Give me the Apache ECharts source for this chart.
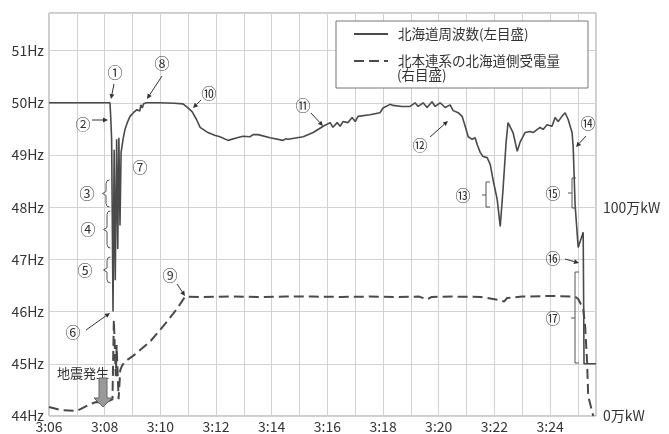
<!DOCTYPE html>
<html>
<head>
<meta charset="utf-8">
<script src="https://cdn.jsdelivr.net/npm/echarts@6/dist/echarts.min.js"></script>
<style>
html,body{margin:0;padding:0;background:#fff;}
#chart{width:669px;height:434px;}
</style>
</head>
<body>
<div id="chart"></div>
<script>
// ---- data (x = minutes after 3:00) ----
const freqMin = [6.00,8.19,8.22,8.25,8.30,8.34,8.38,8.43,8.47,8.51,8.55,8.59,8.66,8.73,8.82,8.91,9.05,9.16,9.22,9.26,9.30,9.35,9.40,9.50,10.00,10.50,10.81,10.95,11.14,11.30,11.43,11.71,11.95,12.14,12.43,12.76,12.97,13.22,13.33,13.51,13.94,14.41,14.50,14.59,15.13,15.49,15.85,16.10,16.20,16.35,16.46,16.56,16.74,16.89,17.00,17.10,17.53,17.89,18.00,18.25,18.36,18.68,18.97,19.15,19.26,19.44,19.58,19.76,19.87,20.05,20.23,20.41,20.52,20.70,20.84,20.95,21.06,21.20,21.31,21.38,21.49,21.59,21.74,21.85,21.95,22.10,22.21,22.31,22.42,22.49,22.56,22.67,22.82,22.92,23.10,23.28,23.39,23.46,23.64,23.75,23.89,24.07,24.18,24.29,24.43,24.54,24.65,24.79,24.83,24.90,25.01,25.19,25.22,25.65];
const freqHz  = [50.00,50.00,49.70,49.30,46.00,49.10,46.60,49.30,47.20,49.33,47.65,49.05,49.30,49.49,49.63,49.74,49.82,49.87,49.90,49.84,49.96,49.90,49.98,50.00,50.00,49.99,49.98,49.92,49.83,49.68,49.53,49.43,49.38,49.35,49.28,49.33,49.36,49.35,49.39,49.39,49.33,49.28,49.31,49.30,49.35,49.43,49.55,49.62,49.53,49.62,49.55,49.64,49.62,49.72,49.64,49.74,49.77,49.81,49.90,49.97,49.95,49.93,49.93,50.00,49.93,50.00,49.91,50.02,49.93,50.00,49.91,49.96,49.85,49.81,49.74,49.55,49.35,49.30,49.33,49.20,49.05,48.97,48.95,48.82,48.53,48.15,47.63,48.34,49.24,49.62,49.64,49.43,49.07,49.24,49.43,49.45,49.43,49.43,49.53,49.49,49.58,49.55,49.72,49.64,49.74,49.81,49.68,49.43,49.16,48.04,47.23,47.52,45.00,45.00];
const powerMin = [6.00,6.40,7.00,7.50,7.70,7.90,8.15,8.28,8.33,8.40,8.43,8.50,8.56,8.62,8.72,9.02,9.63,10.24,10.60,10.89,11.50,12.50,13.50,14.50,15.50,16.50,17.50,18.50,19.30,19.58,19.75,20.50,21.50,22.20,22.35,22.45,23.00,24.00,24.90,25.01,25.19,25.26,25.33,25.37,25.55];
const powerMW  = [4.3,2.9,2.4,5.8,6.7,6.3,7.2,8.0,46.0,19.0,34.0,8.0,22.0,24.0,26.0,28.8,35.6,45.2,51.4,57.2,57.0,57.2,57.0,57.2,57.2,57.0,57.2,57.0,57.2,55.8,57.0,57.2,57.0,55.5,54.8,56.5,57.2,57.5,57.2,56.0,51.4,43.0,26.0,9.6,0.0];
const seriesNames = ['北海道周波数(左目盛)', '北本連系の北海道側受電量'];
const leftTickLabels = {44:'44Hz',45:'45Hz',46:'46Hz',47:'47Hz',48:'48Hz',49:'49Hz',50:'50Hz',51:'51Hz'};
const rightTickLabels = {0:'0万kW',100:'100万kW'};
const xTickLabels = {6:'3:06',8:'3:08',10:'3:10',12:'3:12',14:'3:14',16:'3:16',18:'3:18',20:'3:20',22:'3:22',24:'3:24'};

const FONT = '"Noto Sans CJK JP", "Noto Sans", sans-serif';
const INK = '#4a4a4a';

const chart = echarts.init(document.getElementById('chart'), null, {renderer:'canvas'});

// annotation helpers (pixel layout of callouts)
function circled(t, x, y){
  return {type:'text', z:100, style:{text:t, x:x, y:y, fill:'#333', font:'15px ' + FONT, textAlign:'center', textVerticalAlign:'middle'}};
}
function arrow(x1,y1,x2,y2){
  const a = Math.atan2(y2-y1, x2-x1), L = 5, W = 2.4;
  const bx = x2 - L*Math.cos(a), by = y2 - L*Math.sin(a);
  const px = -Math.sin(a)*W, py = Math.cos(a)*W;
  return [
    {type:'line', z:100, shape:{x1:x1,y1:y1,x2:bx,y2:by}, style:{stroke:'#333', lineWidth:1}},
    {type:'polygon', z:100, shape:{points:[[x2,y2],[bx+px,by+py],[bx-px,by-py]]}, style:{fill:'#333'}}
  ];
}
function brace(x, y0, y1){
  const w = 3.5, ym = (y0+y1)/2;
  return {type:'polyline', z:100, shape:{points:[[x+w,y0],[x+1,y0+0.8],[x,y0+w],[x,ym-2],[x-w,ym],[x,ym+2],[x,y1-w],[x+1,y1-0.8],[x+w,y1]]},
    style:{stroke:'#555', lineWidth:1, fill:null}};
}
function bracket(x, y0, y1, ym){
  return [
    {type:'polyline', z:100, shape:{points:[[x+4,y0],[x,y0],[x,y1],[x+4,y1]]}, style:{stroke:'#555', lineWidth:1, fill:null}},
    {type:'line', z:100, shape:{x1:x-4,y1:ym,x2:x,y2:ym}, style:{stroke:'#555', lineWidth:1}}
  ];
}

const graphics = [].concat(
  circled('①',115,72), arrow(114,84,111,99),
  circled('②',83,124), arrow(92,120,108,120),
  circled('③',87,193), brace(106,180,207),
  circled('④',88,229), brace(107,211,248),
  circled('⑤',85,270), brace(107,257,283),
  circled('⑥',73,332), arrow(86,330,110,313),
  circled('⑦',140,167),
  circled('⑧',162,63), arrow(162,76,147,99),
  circled('⑨',170,275), arrow(177,284,185,296),
  circled('⑩',209,93), arrow(201,100,193,108),
  circled('⑪',303,105), arrow(311,113,323,126),
  circled('⑫',420,145), arrow(430,137,448,121),
  circled('⑬',463,195), bracket(486,182,207,195),
  circled('⑭',588,123), arrow(586,136,576,147),
  circled('⑮',553,193), bracket(572,178,208,193),
  circled('⑯',553,258), arrow(565,259,579,263),
  circled('⑰',553,318), bracket(575,272,363,318),
  [
    {type:'text', z:100, style:{text:'地震発生', x:83, y:373, fill:'#333', font:'13px ' + FONT, textAlign:'center', textVerticalAlign:'middle'}},
    {type:'polygon', z:100, shape:{points:[[99,378],[107,378],[107,398],[112,398],[103,407],[94,398],[99,398]]}, style:{fill:'#999', stroke:'#666', lineWidth:1}},
    {type:'text', z:100, style:{text:'(右目盛)', x:397, y:75, fill:'#333', font:'13.5px ' + FONT, textAlign:'left', textVerticalAlign:'middle'}}
  ]
);

const option = {
  animation:false,
  backgroundColor:'#fff',
  textStyle:{fontFamily:FONT},
  grid:{left:49, top:13, right:73, bottom:17, show:true, borderColor:'#9a9a9a', borderWidth:1, backgroundColor:'transparent'},
  legend:{
    orient:'vertical', left:336, top:21,
    padding:[6,28,20,17], itemGap:13, itemWidth:34, itemHeight:14,
    backgroundColor:'#fff', borderColor:'#777', borderWidth:1,
    itemStyle:{opacity:0, borderWidth:0},
    textStyle:{fontSize:13.5, color:'#333', fontFamily:FONT, lineHeight:14, padding:[0,0,0,5]},
    data: seriesNames
  },
  xAxis:{
    type:'value', min:6, max:25.65, interval:1,
    axisLine:{show:false}, axisTick:{show:false},
    splitLine:{show:true, lineStyle:{color:'#d2d2d2', width:1}},
    axisLabel:{margin:4, fontSize:14, color:'#333', fontFamily:FONT,
      formatter: v => xTickLabels[Math.round(v)] !== undefined && Math.abs(v-Math.round(v))<1e-6 ? xTickLabels[Math.round(v)] : ''}
  },
  yAxis:[
    {type:'value', min:44, max:51.72, interval:1,
      axisLine:{show:false}, axisTick:{show:false},
      splitLine:{show:true, lineStyle:{color:'#d2d2d2', width:1}},
      axisLabel:{margin:5, fontSize:14, color:'#333', fontFamily:FONT,
        formatter: v => Math.abs(v-Math.round(v))<1e-6 && leftTickLabels[Math.round(v)] ? leftTickLabels[Math.round(v)] : ''}
    },
    {type:'value', min:0, max:193, interval:100, position:'right',
      axisLine:{show:false}, axisTick:{show:false}, splitLine:{show:false},
      axisLabel:{margin:7, fontSize:14, color:'#333', fontFamily:FONT,
        formatter: v => rightTickLabels[v] !== undefined ? rightTickLabels[v] : ''}
    }
  ],
  series:[
    {name:seriesNames[0], type:'line', yAxisIndex:0, symbol:'none', z:5,
      lineStyle:{color:INK, width:1.6}, itemStyle:{color:INK},
      data: freqMin.map((m,i)=>[m,freqHz[i]])},
    {name:seriesNames[1], type:'line', yAxisIndex:1, symbol:'none', z:4,
      lineStyle:{color:INK, width:2, type:[10,5]}, itemStyle:{color:INK},
      data: powerMin.map((m,i)=>[m,powerMW[i]])}
  ],
  graphic: graphics
};
chart.setOption(option);
</script>
</body>
</html>
